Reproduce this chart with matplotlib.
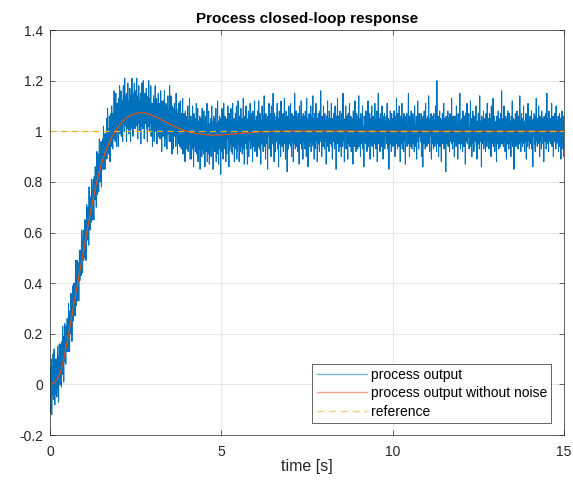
import numpy as np
import matplotlib
matplotlib.use("Agg")
import matplotlib.pyplot as plt

# MATLAB default colours
BLUE = "#0072BD"
ORANGE = "#D95319"
YELLOW = "#EDB120"
AXIS_GREY = "#262626"

plt.rcParams['font.family'] = ['Liberation Sans', 'DejaVu Sans']

DT_OUT = 0.01    # sample time of measured output [s]
DT_CLEAN = 0.1   # sample time of noise free output [s]

# reference step
t_ref = [0.0, 15.0]
reference = [1.0, 1.0]

# measured process output, one row = 0.2 s
output = [
    -0.04, 0.07, -0.11, 0.02, 0.10, -0.12, 0.02, 0.07, -0.04, 0.12, -0.06, 0.05, 0.14, 0.00, -0.08, 0.07, 0.10, -0.04, 0.03, 0.10,
    -0.05, 0.05, 0.15, -0.01, 0.11, -0.07, 0.09, 0.16, 0.05, 0.00, 0.12, 0.04, 0.16, -0.01, 0.10, 0.17, 0.04, 0.23, 0.09, 0.16,
    0.01, 0.19, 0.12, 0.24, 0.09, 0.17, 0.08, 0.23, 0.17, 0.13, 0.26, 0.17, 0.24, 0.13, 0.32, 0.17, 0.23, 0.13, 0.29, 0.26,
    0.20, 0.36, 0.26, 0.31, 0.17, 0.35, 0.28, 0.39, 0.25, 0.32, 0.40, 0.30, 0.36, 0.27, 0.41, 0.49, 0.31, 0.39, 0.37, 0.49,
    0.33, 0.45, 0.41, 0.48, 0.33, 0.46, 0.53, 0.41, 0.46, 0.43, 0.53, 0.43, 0.61, 0.48, 0.52, 0.44, 0.57, 0.61, 0.49, 0.57,
    0.52, 0.65, 0.50, 0.58, 0.65, 0.49, 0.62, 0.71, 0.61, 0.57, 0.70, 0.62, 0.68, 0.55, 0.78, 0.62, 0.68, 0.61, 0.74, 0.69,
    0.64, 0.81, 0.70, 0.77, 0.65, 0.76, 0.81, 0.71, 0.65, 0.82, 0.78, 0.73, 0.86, 0.77, 0.83, 0.70, 0.87, 0.92, 0.75, 0.82,
    0.79, 0.91, 0.76, 0.87, 0.97, 0.85, 0.80, 0.92, 0.85, 0.96, 0.78, 0.93, 0.90, 0.85, 0.97, 0.89, 1.02, 0.85, 0.94, 0.92,
    0.99, 0.85, 0.99, 0.94, 0.91, 1.05, 0.89, 0.98, 1.09, 0.92, 1.01, 0.96, 0.91, 1.06, 1.00, 0.88, 1.04, 0.97, 1.07, 0.94,
    1.10, 0.96, 1.02, 0.93, 1.07, 1.02, 0.97, 1.16, 1.01, 1.07, 0.96, 1.08, 1.15, 1.03, 0.94, 1.06, 1.11, 1.01, 1.05, 0.94,
    1.13, 1.03, 1.09, 1.18, 0.99, 1.07, 1.01, 1.16, 0.98, 1.08, 1.05, 1.12, 0.96, 1.12, 1.18, 1.03, 1.07, 1.00, 1.21, 1.05,
    1.14, 1.02, 1.09, 0.96, 1.15, 1.08, 1.01, 1.19, 1.05, 1.11, 0.99, 1.12, 1.07, 1.17, 1.03, 0.96, 1.14, 1.10, 1.01, 1.21,
    1.06, 1.12, 0.98, 1.15, 1.09, 1.03, 1.19, 1.07, 1.01, 1.13, 1.16, 1.02, 1.08, 1.21, 1.04, 1.10, 0.97, 1.14, 1.07, 1.18,
    1.03, 1.12, 1.00, 1.09, 1.15, 0.95, 1.13, 1.06, 1.19, 1.02, 1.10, 1.01, 1.20, 1.07, 1.13, 0.97, 1.07, 1.15, 1.03, 1.13,
    1.05, 1.17, 1.01, 1.08, 0.96, 1.11, 1.14, 1.02, 1.20, 1.07, 1.00, 1.09, 1.13, 1.03, 1.18, 0.98, 1.07, 1.05, 1.11, 0.94,
    1.10, 1.01, 1.14, 1.05, 0.96, 1.12, 1.06, 1.18, 1.00, 1.08, 1.02, 1.13, 0.95, 1.07, 1.11, 1.03, 1.15, 0.98, 1.09, 1.04,
    1.11, 0.97, 1.07, 1.16, 1.00, 1.05, 0.92, 1.12, 1.03, 1.09, 0.98, 1.12, 1.05, 1.00, 1.16, 0.94, 1.09, 1.03, 1.11, 0.97,
    1.06, 0.93, 1.10, 1.02, 1.14, 0.99, 1.04, 1.08, 0.96, 1.18, 1.02, 1.08, 0.96, 1.14, 0.99, 1.04, 0.91, 1.10, 1.01, 1.09,
    0.93, 1.07, 1.03, 1.11, 0.98, 1.01, 1.08, 0.94, 1.15, 0.98, 1.09, 1.00, 0.91, 1.07, 1.03, 0.95, 1.11, 0.97, 1.03, 0.94,
    1.12, 1.00, 1.05, 0.93, 1.07, 1.01, 0.96, 1.13, 0.91, 1.03, 0.96, 1.07, 0.94, 1.01, 0.88, 1.08, 1.04, 0.98, 1.05, 0.93,
    1.06, 0.98, 1.10, 0.92, 1.00, 1.04, 0.95, 1.13, 0.99, 0.89, 1.01, 1.06, 0.95, 0.89, 1.04, 0.98, 1.10, 0.93, 1.00, 0.86,
    1.07, 0.94, 0.99, 1.05, 0.92, 1.03, 0.97, 1.11, 0.91, 1.00, 0.95, 1.09, 0.88, 1.01, 1.04, 0.98, 0.93, 1.06, 0.85, 1.03,
    1.05, 0.96, 0.99, 0.90, 1.09, 0.93, 1.02, 0.98, 0.91, 1.08, 0.97, 1.03, 0.86, 1.04, 0.94, 1.06, 0.92, 1.00, 1.11, 0.88,
    1.02, 0.91, 0.98, 1.08, 0.96, 0.87, 1.03, 0.99, 0.93, 1.05, 0.90, 1.00, 1.10, 0.94, 1.04, 0.97, 0.85, 1.02, 1.06, 0.93,
    0.99, 0.92, 1.05, 0.96, 1.09, 0.88, 0.98, 1.03, 0.91, 1.12, 0.94, 1.04, 0.87, 1.00, 0.97, 1.06, 0.93, 1.02, 0.83, 1.05,
    0.99, 0.92, 1.09, 0.97, 1.04, 0.89, 1.03, 1.11, 0.93, 1.00, 0.94, 1.06, 0.98, 0.88, 1.05, 1.01, 0.91, 1.04, 0.99, 1.10,
    0.97, 1.03, 0.86, 1.07, 0.93, 1.00, 1.06, 0.95, 1.09, 0.92, 1.04, 0.98, 0.91, 1.11, 0.95, 1.01, 0.94, 1.05, 0.88, 1.03,
    0.93, 1.07, 0.99, 0.97, 1.10, 0.89, 1.03, 0.92, 1.00, 1.12, 0.95, 1.04, 0.88, 1.06, 0.98, 1.01, 0.92, 1.09, 0.94, 0.99,
    1.05, 0.91, 1.03, 0.97, 1.13, 0.93, 1.00, 0.87, 1.06, 0.98, 1.02, 0.95, 1.10, 0.93, 1.00, 1.05, 0.87, 1.04, 0.98, 1.08,
    0.90, 1.01, 1.06, 0.96, 1.11, 0.99, 0.93, 1.07, 0.95, 1.02, 1.04, 0.88, 1.08, 0.98, 1.05, 0.94, 1.00, 1.12, 0.92, 1.01,
    1.04, 0.95, 1.06, 1.01, 0.90, 0.98, 1.08, 1.02, 0.94, 1.12, 0.99, 0.93, 1.05, 1.07, 0.96, 0.87, 1.01, 1.04, 0.95, 1.10,
    0.98, 1.02, 0.92, 1.06, 1.00, 1.14, 0.96, 0.94, 1.04, 0.89, 1.07, 0.99, 1.05, 0.95, 1.01, 0.85, 1.06, 1.02, 0.98, 1.11,
    0.93, 1.00, 1.07, 0.96, 1.04, 0.90, 1.10, 1.01, 0.95, 1.05, 0.99, 1.15, 0.94, 1.02, 0.88, 1.07, 0.98, 1.04, 0.92, 1.00,
    1.06, 0.96, 1.01, 1.11, 0.93, 0.99, 1.05, 0.86, 1.02, 1.08, 0.95, 1.00, 1.04, 0.90, 1.12, 0.98, 1.06, 0.94, 1.01, 0.96,
    1.07, 0.92, 1.02, 0.99, 1.13, 0.95, 1.05, 0.89, 1.00, 1.08, 0.96, 1.04, 0.84, 1.06, 0.99, 1.02, 0.93, 1.10, 1.00, 0.95,
    1.04, 0.98, 1.11, 0.94, 1.01, 0.90, 1.07, 1.05, 0.96, 1.00, 0.88, 1.06, 1.02, 0.95, 1.15, 0.98, 0.93, 1.04, 1.08, 0.99,
    0.94, 1.05, 1.00, 0.92, 1.07, 0.98, 1.02, 0.87, 1.10, 1.01, 0.95, 1.04, 0.99, 1.12, 0.93, 1.06, 0.96, 1.01, 0.89, 1.07,
    1.02, 0.96, 1.06, 0.99, 0.93, 1.08, 1.00, 1.04, 0.90, 1.13, 0.95, 1.01, 1.05, 0.86, 1.02, 0.98, 1.07, 0.94, 1.04, 1.00,
    0.96, 1.10, 0.92, 1.02, 1.06, 0.95, 1.00, 1.14, 0.94, 0.99, 1.05, 0.89, 1.07, 0.98, 1.01, 0.93, 1.11, 1.02, 0.96, 1.04,
    0.88, 1.05, 0.99, 1.07, 0.95, 1.01, 0.92, 1.08, 1.00, 0.96, 1.16, 0.98, 1.04, 0.90, 1.06, 0.99, 1.02, 0.94, 1.10, 0.95,
    1.01, 0.93, 1.07, 1.00, 0.96, 1.04, 0.87, 1.06, 1.02, 0.98, 1.12, 0.94, 1.00, 1.05, 0.92, 1.08, 0.99, 1.01, 0.95, 1.05,
    0.98, 1.11, 0.94, 1.02, 0.89, 1.05, 1.00, 0.96, 1.07, 0.99, 0.93, 1.04, 1.10, 0.95, 1.01, 0.85, 1.06, 0.98, 1.02, 1.13,
    0.95, 1.00, 1.06, 0.92, 1.04, 0.99, 1.08, 0.94, 1.01, 1.05, 0.90, 1.07, 0.98, 1.02, 0.94, 1.15, 1.00, 0.96, 1.05, 0.88,
    1.04, 0.98, 1.01, 1.10, 0.93, 1.02, 0.96, 1.06, 0.99, 0.89, 1.07, 1.00, 0.95, 1.04, 1.11, 0.94, 1.01, 0.98, 1.06, 0.92,
    1.00, 1.05, 0.95, 1.02, 0.87, 1.08, 0.99, 1.04, 0.94, 1.01, 1.12, 0.96, 1.05, 0.92, 1.00, 1.07, 0.98, 1.02, 0.93, 1.06,
    0.99, 1.14, 0.94, 1.01, 0.96, 1.05, 0.90, 1.07, 1.00, 0.95, 1.04, 0.98, 1.10, 0.93, 1.02, 0.99, 0.86, 1.06, 1.01, 0.96,
    1.05, 0.95, 1.08, 0.99, 1.02, 0.92, 1.06, 0.98, 1.12, 0.94, 1.01, 1.04, 0.96, 1.07, 0.89, 1.00, 1.05, 0.95, 1.02, 1.10,
    0.94, 1.01, 0.98, 1.06, 0.90, 1.04, 1.00, 0.95, 1.11, 0.99, 1.05, 0.93, 1.02, 0.96, 1.08, 0.88, 1.04, 1.00, 1.15, 0.95,
    1.02, 0.96, 1.05, 0.92, 1.07, 1.00, 0.98, 1.04, 0.94, 1.10, 0.99, 1.01, 0.89, 1.06, 0.96, 1.02, 1.07, 0.93, 1.00, 1.04,
    0.98, 1.06, 0.95, 1.01, 1.11, 0.93, 1.02, 0.99, 1.05, 0.85, 1.04, 1.00, 0.95, 1.08, 0.98, 1.02, 0.92, 1.07, 1.00, 0.96,
    1.05, 0.94, 1.02, 0.99, 1.08, 0.96, 1.01, 0.90, 1.06, 1.00, 0.95, 1.13, 0.98, 1.04, 0.93, 1.07, 0.99, 1.02, 0.94, 1.10,
    0.96, 1.04, 0.88, 1.06, 1.00, 0.95, 1.02, 1.11, 0.93, 1.01, 0.98, 1.05, 0.92, 1.07, 1.00, 0.96, 1.04, 0.87, 1.06, 1.01,
    0.99, 1.07, 0.94, 1.02, 0.96, 1.05, 1.15, 0.95, 1.00, 0.90, 1.06, 0.98, 1.04, 0.94, 1.08, 1.00, 0.93, 1.02, 0.99, 1.07,
    0.95, 1.01, 1.05, 0.92, 1.10, 0.98, 1.02, 0.94, 1.00, 1.06, 0.89, 1.04, 0.96, 1.12, 0.99, 1.02, 0.93, 1.07, 0.98, 1.01,
    1.04, 0.96, 1.00, 1.07, 0.90, 1.05, 0.99, 1.02, 0.86, 1.06, 1.01, 0.95, 1.08, 0.98, 1.04, 0.93, 1.11, 1.00, 0.96, 1.05,
    0.94, 1.02, 0.99, 1.06, 0.96, 1.14, 0.95, 1.01, 0.92, 1.05, 1.00, 0.98, 1.07, 0.89, 1.04, 0.99, 1.06, 0.95, 1.02, 0.93,
    1.07, 0.98, 1.04, 0.94, 1.00, 1.10, 0.96, 1.02, 0.92, 1.20, 0.95, 1.01, 0.99, 1.06, 0.90, 1.04, 0.98, 1.08, 0.94, 1.01,
    1.05, 0.96, 0.88, 1.04, 1.00, 1.07, 0.95, 1.02, 0.99, 1.11, 0.93, 1.01, 1.05, 0.96, 1.02, 0.84, 1.06, 0.99, 1.04, 0.95,
    1.01, 1.08, 0.94, 1.00, 0.98, 1.05, 0.92, 1.07, 1.02, 0.96, 1.04, 0.99, 1.13, 0.95, 1.00, 0.93, 1.06, 1.02, 0.96, 1.04,
    0.90, 1.01, 1.06, 0.98, 1.04, 0.94, 1.10, 1.00, 0.96, 1.02, 0.89, 1.07, 0.99, 1.05, 0.95, 1.01, 1.15, 0.98, 0.93, 1.04,
    1.00, 0.95, 1.05, 1.02, 0.92, 1.08, 0.99, 1.01, 0.94, 1.06, 0.98, 1.04, 0.87, 1.07, 1.00, 0.96, 1.02, 1.11, 0.95, 1.01,
    1.04, 0.98, 1.07, 0.93, 1.00, 1.02, 0.96, 1.12, 0.94, 1.01, 1.05, 0.90, 1.04, 0.99, 1.08, 0.95, 1.00, 0.92, 1.06, 1.02,
    0.96, 1.05, 0.99, 1.10, 0.94, 1.01, 0.89, 1.04, 1.00, 0.95, 1.07, 0.98, 1.02, 0.93, 1.14, 0.99, 1.04, 0.96, 1.00, 0.86,
    1.06, 1.00, 0.95, 1.04, 0.98, 1.08, 0.93, 1.01, 1.05, 0.96, 1.02, 0.92, 1.07, 0.99, 1.01, 0.94, 1.11, 1.00, 0.96, 1.05,
    0.99, 0.93, 1.02, 1.07, 0.96, 1.00, 1.05, 0.90, 1.10, 0.98, 1.01, 0.95, 1.04, 1.13, 0.94, 1.02, 0.99, 1.06, 0.92, 1.00,
    1.04, 0.96, 1.01, 0.88, 1.06, 0.99, 1.02, 0.95, 1.08, 1.00, 0.93, 1.05, 0.98, 1.02, 0.94, 1.07, 1.01, 0.96, 1.16, 0.95,
    1.02, 0.99, 1.05, 0.94, 1.00, 1.10, 0.96, 1.04, 0.92, 1.01, 1.06, 0.98, 0.89, 1.05, 1.00, 0.95, 1.08, 0.99, 1.02, 0.93,
    1.07, 0.98, 1.01, 0.95, 1.04, 0.90, 1.06, 1.00, 0.96, 1.12, 0.94, 1.02, 0.99, 1.05, 0.85, 1.04, 1.01, 0.96, 1.07, 0.99,
    0.94, 1.04, 1.00, 1.08, 0.96, 1.02, 0.93, 1.06, 0.99, 1.01, 0.95, 1.14, 0.98, 1.04, 0.92, 1.00, 1.07, 0.96, 1.02, 0.94,
    1.05, 0.99, 1.10, 0.95, 1.01, 0.92, 1.04, 1.00, 0.96, 1.07, 0.89, 1.02, 0.98, 1.06, 0.94, 1.11, 1.00, 0.96, 1.04, 0.93,
    1.01, 1.06, 0.95, 1.02, 0.99, 1.08, 0.93, 1.00, 1.04, 0.86, 1.05, 0.98, 1.01, 1.07, 0.95, 1.02, 0.92, 1.06, 0.99, 1.13,
    0.96, 1.02, 0.94, 1.05, 1.00, 0.95, 1.10, 0.99, 1.04, 0.90, 1.06, 1.01, 0.96, 1.04, 0.93, 1.08, 1.00, 0.98, 1.05, 0.95,
    1.02, 0.88, 1.06, 0.99, 1.04, 0.96, 1.01, 1.07, 0.93, 1.00, 1.15, 0.95, 1.02, 0.98, 1.05, 0.92, 1.08, 1.00, 0.96, 1.04,
    0.99, 1.05, 0.95, 1.01, 1.11, 0.94, 1.02, 0.98, 1.06, 0.90, 1.04, 1.00, 0.96, 1.07, 0.99, 1.02, 0.93, 1.10, 1.01, 0.95,
    1.04, 0.96, 1.00, 1.06, 0.92, 1.02, 0.98, 1.07, 0.94, 1.01, 1.05, 0.89, 1.04, 0.99, 1.08, 0.95, 1.00, 0.93, 1.06, 0.90,
    0.98,
]

# process output without noise, one row = 1 s
clean = [
    0.000, 0.004, 0.018, 0.045, 0.100, 0.168, 0.242, 0.320, 0.395, 0.470,
    0.545, 0.620, 0.692, 0.760, 0.820, 0.870, 0.912, 0.947, 0.976, 1.000,
    1.020, 1.036, 1.049, 1.059, 1.066, 1.070, 1.073, 1.073, 1.071, 1.067,
    1.062, 1.056, 1.049, 1.042, 1.035, 1.028, 1.021, 1.015, 1.009, 1.004,
    1.000, 0.996, 0.993, 0.991, 0.989, 0.987, 0.986, 0.985, 0.985, 0.985,
    0.986, 0.987, 0.988, 0.989, 0.990, 0.992, 0.993, 0.994, 0.995, 0.996,
    0.997, 0.998, 0.998, 0.999, 0.999, 1.000, 1.000, 1.000, 1.000, 1.000,
    1.001, 1.001, 1.001, 1.001, 1.001, 1.001, 1.001, 1.001, 1.001, 1.001,
    1.001, 1.001, 1.001, 1.001, 1.001, 1.001, 1.001, 1.001, 1.001, 1.001,
    1.000, 1.000, 1.000, 1.000, 1.000, 1.000, 1.000, 1.000, 1.000, 1.000,
    1.000, 1.000, 1.000, 1.000, 1.000, 1.000, 1.000, 1.000, 1.000, 1.000,
    1.000, 1.000, 1.000, 1.000, 1.000, 1.000, 1.000, 1.000, 1.000, 1.000,
    1.000, 1.000, 1.000, 1.000, 1.000, 1.000, 1.000, 1.000, 1.000, 1.000,
    1.000, 1.000, 1.000, 1.000, 1.000, 1.000, 1.000, 1.000, 1.000, 1.000,
    1.000, 1.000, 1.000, 1.000, 1.000, 1.000, 1.000, 1.000, 1.000, 1.000,
    1.000,
]

t_out = np.arange(len(output)) * DT_OUT
t_clean = np.arange(len(clean)) * DT_CLEAN

fig = plt.figure(figsize=(5.73, 4.86), dpi=100)
ax = fig.add_axes([0.0873, 0.1049, 0.8970, 0.8333])

ax.plot(t_out, output, color=BLUE, lw=0.75, label="process output")
ax.plot(t_clean, clean, color=ORANGE, lw=0.9, label="process output without noise")
ax.plot(t_ref, reference, color=YELLOW, lw=0.9, dashes=(5, 3.5), label="reference")

ax.set_xlim(0, 15)
ax.set_ylim(-0.2, 1.4)
ax.set_xticks([0, 5, 10, 15])
ax.set_yticks(np.arange(-0.2, 1.41, 0.2))
ax.set_yticklabels(["-0.2", "0", "0.2", "0.4", "0.6", "0.8", "1", "1.2", "1.4"])

ax.grid(True, color=AXIS_GREY, alpha=0.15, lw=0.5)
ax.set_axisbelow(True)
for s in ax.spines.values():
    s.set_linewidth(0.5)
    s.set_color(AXIS_GREY)
ax.tick_params(direction="in", top=True, right=True, length=3.5, width=0.5,
               colors=AXIS_GREY, labelsize=10)
ax.tick_params(axis="x", pad=7)
ax.tick_params(axis="y", pad=5)

ax.set_title("Process closed-loop response", fontsize=11, fontweight="bold", pad=5)
ax.set_xlabel("time [s]", fontsize=11.5, color=AXIS_GREY, labelpad=0)

leg = ax.legend(loc="lower right", bbox_to_anchor=(0.975, 0.03), borderaxespad=0,
                fontsize=10, fancybox=False, framealpha=1, handlelength=3.6,
                handletextpad=0.3, labelspacing=0.32, borderpad=0.3)
leg.get_frame().set_edgecolor(AXIS_GREY)
leg.get_frame().set_linewidth(0.5)
# the legend samples look washed out in the original
for h, c in zip(leg.get_lines(), ["#7DB7E0", "#EEA78A", "#F3CF80"]):
    h.set_color(c)
    h.set_linewidth(1.0)

fig.savefig("out.png", dpi=100)
